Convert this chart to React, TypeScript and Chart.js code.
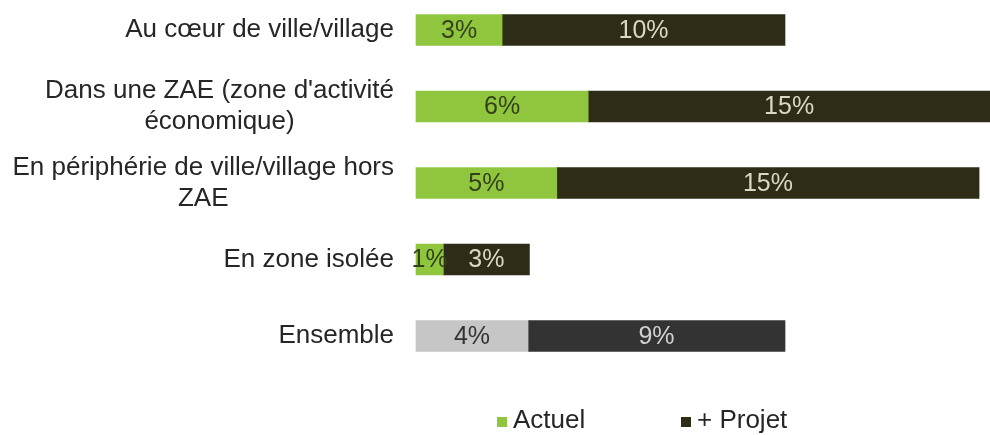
import React, { useEffect, useRef } from "react";
import { Chart, registerables } from "chart.js";

Chart.register(...registerables);

const categories: string[][] = [
  ["Au cœur de ville/village"],
  ["Dans une ZAE (zone d'activité", "économique)"],
  ["En périphérie de ville/village hors", "ZAE"],
  ["En zone isolée"],
  ["Ensemble"],
];

const seriesNames = ["Actuel", "+ Projet"];
const actuel = [3.15, 6.3, 5.15, 1.0, 4.1];
const projet = [10.35, 14.7, 15.45, 3.15, 9.4];

const GREEN = "#8fc63e";
const OLIVE = "#2e2c16";
const GRAY = "#c6c6c6";
const DARKGRAY = "#333333";

const actuelColors = [GREEN, GREEN, GREEN, GREEN, GRAY];
const projetColors = [OLIVE, OLIVE, OLIVE, OLIVE, DARKGRAY];
const actuelTextColors = ["#35401c", "#35401c", "#35401c", "#35401c", "#333333"];
const projetTextColors = ["#d9d8c4", "#d9d8c4", "#d9d8c4", "#d9d8c4", "#d0d0d0"];

const FONT = "'Liberation Sans', Arial, sans-serif";

const drawPlugin = {
  id: "customText",
  afterDatasetsDraw(chart: any) {
    const ctx = chart.ctx;
    const yScale = chart.scales.y;
    const area = chart.chartArea;
    ctx.save();
    // category labels
    ctx.font = `26px ${FONT}`;
    ctx.fillStyle = "#262626";
    ctx.textBaseline = "middle";
    ctx.textAlign = "center";
    const rightEdge = area.left - 22;
    const lh = 31;
    categories.forEach((lines, i) => {
      const yc = yScale.getPixelForValue(i);
      const maxW = Math.max(...lines.map((l) => ctx.measureText(l).width));
      const cx = rightEdge - maxW / 2;
      const y0 = yc - ((lines.length - 1) * lh) / 2;
      lines.forEach((l, j) => ctx.fillText(l, cx, y0 + j * lh));
    });
    // value labels
    ctx.font = `25px ${FONT}`;
    const textColors = [actuelTextColors, projetTextColors];
    chart.data.datasets.forEach((ds: any, di: number) => {
      const meta = chart.getDatasetMeta(di);
      meta.data.forEach((el: any, i: number) => {
        const v = ds.data[i];
        const cx = (el.x + el.base) / 2;
        ctx.fillStyle = textColors[di][i];
        ctx.fillText(Math.round(v) + "%", cx, el.y + 1);
      });
    });
    // legend
    ctx.font = `26px ${FONT}`;
    const legendY = 421;
    const items = [
      { x: 497, color: GREEN, text: seriesNames[0] },
      { x: 681, color: OLIVE, text: seriesNames[1] },
    ];
    ctx.textAlign = "left";
    items.forEach((it) => {
      ctx.fillStyle = it.color;
      ctx.fillRect(it.x, legendY - 4, 10, 10);
      ctx.fillStyle = "#262626";
      ctx.fillText(it.text, it.x + 16, legendY);
    });
    ctx.restore();
  },
};

export default function App() {
  const ref = useRef<HTMLCanvasElement>(null);
  useEffect(() => {
    if (!ref.current) return;
    const chart = new Chart(ref.current, {
      type: "bar",
      data: {
        labels: categories.map((c) => c.join(" ")),
        datasets: [
          {
            label: seriesNames[0],
            data: actuel,
            backgroundColor: actuelColors,
            barThickness: 31,
            clip: false as any,
          },
          {
            label: seriesNames[1],
            data: projet,
            backgroundColor: projetColors,
            barThickness: 31,
            clip: false as any,
          },
        ],
      },
      options: {
        indexAxis: "y",
        animation: false,
        responsive: false,
        layout: { padding: { left: 416, top: 30, bottom: 99, right: 0 } },
        scales: {
          x: { stacked: true, min: 0, max: 21, display: false },
          y: { stacked: true, offset: false, display: false },
        },
        plugins: {
          legend: { display: false },
          tooltip: { enabled: false },
        },
      },
      plugins: [drawPlugin],
    });
    return () => chart.destroy();
  }, []);
  return (
    <div style={{ position: "fixed", left: 0, top: 0, width: 990, height: 435, background: "#fff" }}>
      <canvas ref={ref} width={990} height={435} />
    </div>
  );
}
